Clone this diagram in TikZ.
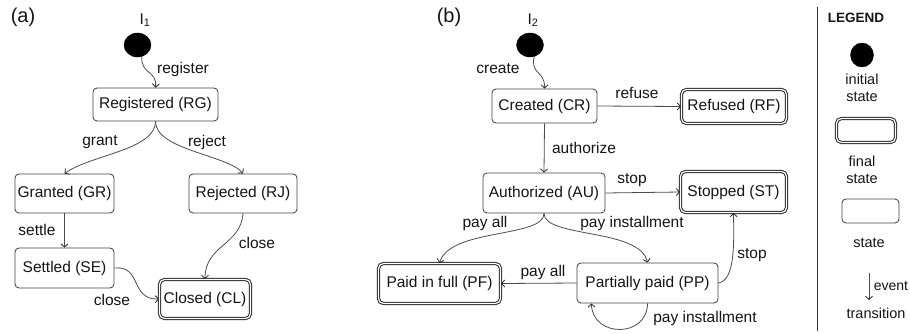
\documentclass[tikz,border=0pt]{standalone}
\usepackage{fontspec}
\setmainfont{Liberation Sans}
\usetikzlibrary{arrows.meta,shapes.geometric}
\newcommand\dfont{\fontsize{15.5}{17}\selectfont}
\newcommand\hfont{\fontsize{20}{22}\selectfont}
\begin{document}
\begin{tikzpicture}[x=1pt,y=-1pt,
  base/.style={inner sep=0pt, font=\dfont, text=black!92},
  statebox/.style={base, draw=black!75, line width=0.85pt, rounded corners=4pt},
  finalbox/.style={base, draw=black!85, line width=1pt, double=white,
    double distance=1.2pt, rounded corners=5pt},
  initdot/.style={ellipse, fill=black, draw=black, inner sep=0pt,
    minimum width=27pt, minimum height=24pt},
  lbl/.style={base},
  trans/.style={draw=black!70, line width=0.8pt,
    -{Straight Barb[length=3.2pt,width=7pt,line width=0.8pt,color=black!85]}}
]
\useasboundingbox (0,0) rectangle (910,333);

% ---------------- panel (a) ----------------
\node[lbl, font=\hfont] (pa) at (23,17) {(a)};
\node[lbl] (I1) at (145,20) {I\textsubscript{1}};
\node[initdot] (d1) at (137.5,45) {};
\node[statebox, minimum width=125pt, minimum height=33pt] (RG) at (155.5,104.5) {Registered (RG)};
\node[statebox, minimum width=99pt, minimum height=39pt] (GR) at (64.5,193.5) {Granted (GR)};
\node[statebox, minimum width=99pt, minimum height=40pt] (SE) at (64.5,268) {Settled (SE)};
\node[statebox, minimum width=108pt, minimum height=39pt] (RJ) at (243,193.5) {Rejected (RJ)};
\node[finalbox, minimum width=91pt, minimum height=39pt] (CL) at (205,299) {Closed (CL)};

\draw[trans] (d1.290) .. controls (141,75) and (157,70) .. (RG.north);
\draw[trans] (RG.south) .. controls (155.5,150) and (90,155) .. (GR.north);
\draw[trans] (RG.south) .. controls (155.5,150) and (228,155) .. (RJ.north);
\draw[trans] (GR.south) -- (SE.north);
\draw[trans] (RJ.south) .. controls (241,245) and (205,245) .. (CL.north);
\draw[trans] (SE.east) .. controls (142,265) and (130,300) .. (CL.west);

\node[lbl] (lreg) at (183,69) {register};
\node[lbl] (lgrant) at (100,142) {grant};
\node[lbl] (lrej) at (207,142) {reject};
\node[lbl] (lset) at (37,230) {settle};
\node[lbl] (lcl1) at (257,243) {close};
\node[lbl] (lcl2) at (112,300) {close};

% ---------------- panel (b) ----------------
\node[lbl, font=\hfont] (pb) at (449,17) {(b)};
\node[lbl] (I2) at (533,20) {I\textsubscript{2}};
\node[initdot] (d2) at (530,45) {};
\node[statebox, minimum width=105pt, minimum height=34pt] (CR) at (544.5,106) {Created (CR)};
\node[finalbox, minimum width=105pt, minimum height=34pt] (RF) at (734,106.5) {Refused (RF)};
\node[statebox, minimum width=122pt, minimum height=40pt] (AU) at (544,193) {Authorized (AU)};
\node[finalbox, minimum width=106pt, minimum height=41pt] (ST) at (733.5,192) {Stopped (ST)};
\node[finalbox, minimum width=122pt, minimum height=40pt] (PF) at (439.5,283.5) {Paid in full (PF)};
\node[statebox, minimum width=141pt, minimum height=40pt] (PP) at (647.5,283) {Partially paid (PP)};

\draw[trans] (d2.290) .. controls (530,75) and (545,70) .. (CR.north);
\draw[trans] (CR.east) -- (RF.west);
\draw[trans] (CR.south) -- (AU.north);
\draw[trans] (AU.east) -- (ST.west);
\draw[trans] (AU.south) .. controls (544,238) and (450,228) .. (PF.north);
\draw[trans] (AU.south) .. controls (544,238) and (640,228) .. (PP.north);
\draw[trans] (PP.west) -- (PF.east);
\draw[trans] (PP.east) .. controls (735,280) and (734,245) .. (ST.south);
\draw[trans] (PP.south) .. controls (647.5,338) and (592.5,338) .. (PP.200);

\node[lbl] (lcre) at (498,69) {create};
\node[lbl] (lref) at (637,93) {refuse};
\node[lbl] (laut) at (584,148) {authorize};
\node[lbl] (lst1) at (632,180) {stop};
\node[lbl] (lpa1) at (485,223) {pay all};
\node[lbl] (lpi1) at (632,223) {pay installment};
\node[lbl] (lst2) at (752,255) {stop};
\node[lbl] (lpa2) at (543,272) {pay all};
\node[lbl] (lpi2) at (705,318) {pay installment};

% ---------------- legend ----------------
\coordinate (sep1) at (817,7);
\coordinate (sep2) at (817,331);
\draw[black!80, line width=1pt] (sep1) -- (sep2);
\node[lbl, font=\fontsize{13.5}{15}\selectfont\bfseries] (lgd) at (856,18) {LEGEND};
\node[initdot, minimum width=23pt, minimum height=24pt] (ld) at (862,55) {};
\node[lbl, align=center, font=\fontsize{14.5}{16.5}\selectfont] (lini) at (862,88) {initial\\state};
\node[finalbox, minimum width=59pt, minimum height=24pt] (lfin) at (866,130.5) {};
\node[lbl, align=center, font=\fontsize{14.5}{16.5}\selectfont] (lfint) at (862,170) {final\\state};
\node[statebox, minimum width=57pt, minimum height=24pt] (lst) at (870.5,211) {};
\node[lbl, font=\fontsize{14.5}{16.5}\selectfont] (lstt) at (869,243) {state};
\coordinate (ev1) at (869,273);
\coordinate (ev2) at (869,300);
\draw[trans] (ev1) -- (ev2);
\node[lbl, font=\fontsize{14}{16}\selectfont] (levt) at (891,286) {event};
\node[lbl, font=\fontsize{14.5}{16.5}\selectfont] (ltr) at (876,313) {transition};
\end{tikzpicture}
\end{document}
